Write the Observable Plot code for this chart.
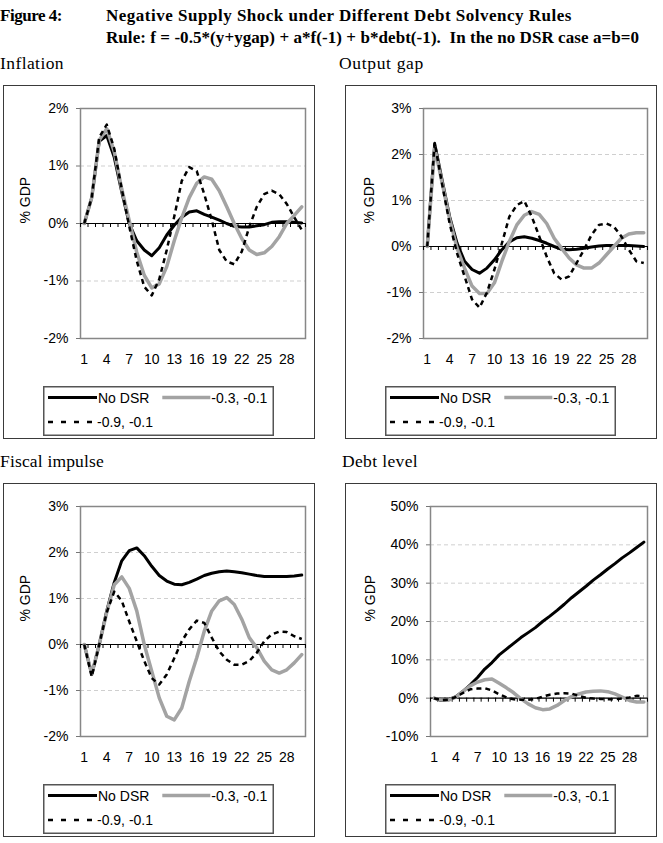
<!DOCTYPE html>
<html>
<head>
<meta charset="utf-8">
<script src="https://cdn.jsdelivr.net/npm/d3@7"></script>
<script src="https://cdn.jsdelivr.net/npm/@observablehq/plot@0.6"></script>
<style>
  body { margin: 0; background: #fff; }
  #page { position: relative; width: 663px; height: 843px; overflow: hidden; background: #fff; }
  .t { position: absolute; white-space: pre; font-family: "Liberation Serif", "Times New Roman", serif; color: #000; line-height: 1; }
  .tb { font-weight: bold; font-size: 17px; }
  .tp { font-size: 17.5px; }
  .box { position: absolute; border: 1.5px solid #3a3a3a; box-sizing: border-box; }
</style>
</head>
<body>
<div id="page"></div>
<script>
// ---------------- data ----------------
const periods = [1,2,3,4,5,6,7,8,9,10,11,12,13,14,15,16,17,18,19,20,21,22,23,24,25,26,27,28,29,30];
const xTickLabels = [1,4,7,10,13,16,19,22,25,28];
const seriesNames = ["No DSR", "-0.3, -0.1", "-0.9, -0.1"];
const panelTitles = ["Inflation", "Output gap", "Fiscal impulse", "Debt level"];
const yAxisLabel = "% GDP";
const figureLabel = "Figure 4:";
const titleLine1 = "Negative Supply Shock under Different Debt Solvency Rules";
const titleLine2 = "Rule: f = -0.5*(y+ygap) + a*f(-1) + b*debt(-1).  In the no DSR case a=b=0";

const inflationTicks = [-2,-1,0,1,2];
const outputGapTicks = [-2,-1,0,1,2,3];
const fiscalTicks = [-2,-1,0,1,2,3];
const debtTicks = [-10,0,10,20,30,40,50];

const inflationNoDSR = [0,0.45,1.43,1.53,1.15,0.55,0.0,-0.3,-0.46,-0.56,-0.42,-0.2,-0.03,0.11,0.2,0.22,0.16,0.11,0.06,0.0,-0.05,-0.06,-0.06,-0.04,-0.02,0.02,0.03,0.03,0.02,0.01];
const inflationA = [0,0.45,1.45,1.65,1.25,0.6,0.05,-0.5,-0.9,-1.12,-1.05,-0.75,-0.3,0.1,0.45,0.7,0.81,0.77,0.57,0.29,0.0,-0.26,-0.46,-0.54,-0.51,-0.4,-0.23,0.0,0.14,0.29];
const inflationB = [0,0.45,1.5,1.72,1.3,0.6,-0.05,-0.65,-1.1,-1.25,-0.97,-0.46,0.12,0.74,0.98,0.91,0.51,0.06,-0.46,-0.66,-0.71,-0.49,-0.06,0.29,0.51,0.57,0.51,0.34,0.11,-0.11];

const outputNoDSR = [0,2.23,1.44,0.65,0.07,-0.32,-0.5,-0.58,-0.47,-0.29,-0.07,0.1,0.19,0.21,0.18,0.13,0.07,0.0,-0.06,-0.07,-0.06,-0.04,-0.01,0.01,0.02,0.02,0.02,0.02,0.01,0.0];
const outputA = [0,2.15,1.38,0.6,-0.04,-0.47,-0.86,-1.02,-1.02,-0.79,-0.32,0.11,0.47,0.68,0.76,0.7,0.5,0.18,-0.04,-0.25,-0.4,-0.47,-0.47,-0.36,-0.18,0.0,0.18,0.27,0.3,0.3];
const outputB = [0,2.25,1.35,0.5,-0.15,-0.65,-1.15,-1.33,-1.0,-0.5,0.07,0.65,0.9,0.99,0.65,0.22,-0.22,-0.58,-0.72,-0.65,-0.36,-0.07,0.25,0.47,0.5,0.43,0.22,-0.07,-0.32,-0.36];

const fiscalNoDSR = [0,-0.65,0.0,0.73,1.35,1.82,2.04,2.1,1.93,1.7,1.5,1.38,1.31,1.3,1.35,1.42,1.5,1.55,1.58,1.6,1.58,1.56,1.53,1.5,1.48,1.48,1.48,1.48,1.49,1.51];
const fiscalA = [0,-0.65,0.0,0.7,1.3,1.47,1.22,0.73,0.0,-0.58,-1.16,-1.56,-1.64,-1.38,-0.8,-0.29,0.29,0.73,0.95,1.02,0.87,0.55,0.15,-0.07,-0.36,-0.55,-0.62,-0.55,-0.4,-0.22];
const fiscalB = [0,-0.7,0.0,0.7,1.15,0.95,0.5,0.07,-0.36,-0.73,-0.87,-0.65,-0.3,0.07,0.33,0.52,0.47,0.15,-0.15,-0.33,-0.44,-0.44,-0.36,-0.18,0.07,0.22,0.28,0.27,0.18,0.12];

const debtNoDSR = [0,-0.6,-0.4,0.4,1.8,3.5,5.4,7.6,9.3,11.3,12.8,14.3,15.8,17.1,18.4,20.0,21.4,22.9,24.5,26.2,27.7,29.2,30.8,32.2,33.7,35.1,36.6,37.9,39.3,40.7];
const debtA = [0,-0.5,-0.5,0.3,1.8,3.2,4.2,4.8,5.0,3.9,2.7,1.4,-0.2,-1.5,-2.5,-3.0,-2.8,-1.9,-0.6,0.4,1.1,1.6,1.8,1.9,1.7,1.1,0.3,-0.6,-1.0,-1.0];
const debtB = [0,-0.5,-0.4,0.3,1.4,2.3,2.5,2.6,2.0,1.0,0.2,-0.3,-0.4,-0.4,-0.2,0.4,0.9,1.2,1.3,1.2,0.6,0.1,-0.1,-0.2,-0.3,-0.3,-0.1,0.2,0.6,0.5];

// ---------------- styles ----------------
const lineStyles = [
  {stroke: "#000000", strokeWidth: 3, dash: null},
  {stroke: "#a3a3a3", strokeWidth: 3.5, dash: null},
  {stroke: "#000000", strokeWidth: 2.5, dash: "5,4"}
];
const FONT = "'Liberation Sans', Arial, sans-serif";

const page = document.getElementById("page");

// place a heading and stretch its letter-spacing so it spans the target width
function addText(txt, cls, left, top, targetWidth) {
  const d = document.createElement("div");
  d.className = "t " + cls;
  d.textContent = txt;
  d.style.left = left + "px";
  d.style.top = top + "px";
  page.appendChild(d);
  if (targetWidth) {
    const w = d.getBoundingClientRect().width;
    const ls = (targetWidth - w) / txt.length;
    d.style.letterSpacing = ls.toFixed(3) + "px";
  }
  return d;
}

addText(figureLabel, "tb", 0, 6.8, 62);
addText(titleLine1, "tb", 106, 6.8, 466);
addText(titleLine2, "tb", 106, 28.8, 533);

const BOXW = 312, BOXH = 354, SVGH = 290, MT = 23, PH = 230;

const panels = [
  {title: panelTitles[0], tw: 64, series: [inflationNoDSR, inflationA, inflationB], ticks: inflationTicks, bx: 3, by: 85, pl: 80, pr: 305, lx: 25, tx: 0, ty: 55.3},
  {title: panelTitles[1], tw: 85, series: [outputNoDSR, outputA, outputB], ticks: outputGapTicks, bx: 345, by: 85, pl: 423, pr: 647, lx: 369, tx: 339, ty: 55.3},
  {title: panelTitles[2], tw: 104, series: [fiscalNoDSR, fiscalA, fiscalB], ticks: fiscalTicks, bx: 3, by: 483, pl: 80, pr: 305, lx: 25, tx: 0, ty: 453.3},
  {title: panelTitles[3], tw: 76, series: [debtNoDSR, debtA, debtB], ticks: debtTicks, bx: 345, by: 483, pl: 430, pr: 647, lx: 370, tx: 342, ty: 453.3}
];

const bounds = periods.map(p => p - 0.5).concat([periods[periods.length - 1] + 0.5]);

for (const P of panels) {
  addText(P.title, "tp", P.tx, P.ty, P.tw);

  const box = document.createElement("div");
  box.className = "box";
  Object.assign(box.style, {left: P.bx + "px", top: P.by + "px", width: BOXW + "px", height: BOXH + "px"});
  page.appendChild(box);

  const rows = P.series.map((vals, s) => periods.map((p, i) => ({p, v: vals[i], s: seriesNames[s]})));

  const chart = Plot.plot({
    width: BOXW,
    height: SVGH,
    marginLeft: P.pl - P.bx,
    marginRight: P.bx + BOXW - P.pr,
    marginTop: MT,
    marginBottom: SVGH - MT - PH,
    x: {domain: [bounds[0], bounds[bounds.length - 1]]},
    y: {domain: [P.ticks[0], P.ticks[P.ticks.length - 1]]},
    style: {fontFamily: FONT, fontSize: "14px", background: "transparent", overflow: "visible", color: "#000"},
    marks: [
      Plot.ruleY(P.ticks, {stroke: "#cfcfcf", strokeDasharray: "4,3"}),
      Plot.frame({stroke: "#878787", strokeWidth: 1.5}),
      Plot.axisY(P.ticks, {tickSize: 4, tickPadding: 8, tickFormat: d => d + "%", fontSize: 14, stroke: "#777", fill: "#000", label: null}),
      Plot.axisX(xTickLabels, {tickSize: 0, tickPadding: 16, fontSize: 14, fill: "#000", label: null}),
      Plot.ruleY([0], {stroke: "#000", strokeWidth: 1.2}),
      Plot.ruleX(bounds, {x: d => d, y1: 0, y2: 0, insetTop: 4, stroke: "#000", strokeWidth: 1}),
      Plot.text([yAxisLabel], {text: d => d, frameAnchor: "left", dx: P.lx - P.pl, rotate: -90, fontSize: 14, fill: "#000"}),
      ...rows.map((r, s) => Plot.line(r, {
        x: "p", y: "v",
        stroke: lineStyles[s].stroke,
        strokeWidth: lineStyles[s].strokeWidth,
        strokeDasharray: lineStyles[s].dash,
        strokeLinejoin: "round",
        strokeLinecap: lineStyles[s].dash ? "butt" : "round"
      }))
    ]
  });
  chart.style.position = "absolute";
  chart.style.left = P.bx + "px";
  chart.style.top = P.by + "px";
  page.appendChild(chart);

  // legend
  const LW = 231, LH = 50;
  const lg = d3.create("svg").attr("width", LW).attr("height", LH)
    .style("position", "absolute")
    .style("left", (P.bx + (BOXW - LW) / 2 - 1) + "px")
    .style("top", (P.by + 300.7) + "px")
    .style("font-family", FONT).style("font-size", "14px");
  lg.append("rect").attr("x", 0.75).attr("y", 0.75).attr("width", LW - 1.5).attr("height", LH - 1.5)
    .attr("fill", "#fff").attr("stroke", "#555").attr("stroke-width", 1.5);
  const items = [
    {x1: 5, x2: 54, tx: 55, y: 11.6},
    {x1: 119.3, x2: 167.3, tx: 168.3, y: 11.6},
    {x1: 5, x2: 52, tx: 54, y: 36}
  ];
  items.forEach((it, s) => {
    lg.append("line").attr("x1", it.x1).attr("x2", it.x2).attr("y1", it.y).attr("y2", it.y)
      .attr("stroke", lineStyles[s].stroke).attr("stroke-width", lineStyles[s].strokeWidth)
      .attr("stroke-dasharray", lineStyles[s].dash ? "5,8" : null);
    lg.append("text").attr("x", it.tx).attr("y", it.y + 5).attr("fill", "#000").text(seriesNames[s]);
  });
  page.appendChild(lg.node());
}
</script>
</body>
</html>
